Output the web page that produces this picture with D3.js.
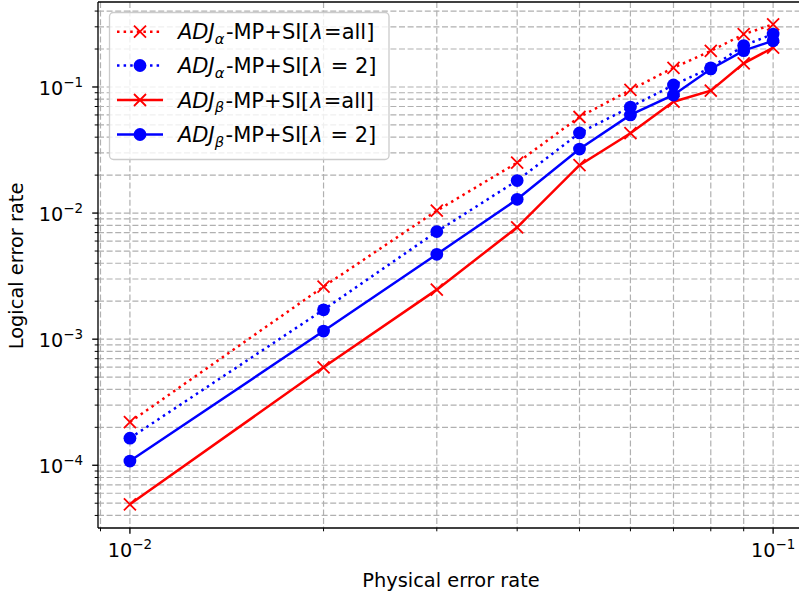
<!DOCTYPE html>
<html>
<head>
<meta charset="utf-8">
<script src="https://cdn.jsdelivr.net/npm/d3@7"></script>
<style>
  html, body { margin: 0; padding: 0; background: #fff; }
  svg { display: block; font-family: "DejaVu Sans", sans-serif; }
</style>
</head>
<body>
<svg id="chart" width="799" height="599"></svg>
<script>
// Physical error rates sampled
const physicalRates = [0.01, 0.02, 0.03, 0.04, 0.05, 0.06, 0.07, 0.08, 0.09, 0.1];

// Logical error rates per decoder configuration
const adjAlphaAll = [2.2e-4, 2.61e-3, 1.045e-2, 0.0251, 0.0578, 0.0947, 0.142, 0.193, 0.262, 0.314];
const adjAlpha2   = [1.64e-4, 1.71e-3, 7.13e-3, 0.0181, 0.0432, 0.0693, 0.1037, 0.142, 0.213, 0.263];
const adjBetaAll  = [4.9e-5, 5.98e-4, 2.47e-3, 7.71e-3, 0.0240, 0.0430, 0.0764, 0.0935, 0.154, 0.205];
const adjBeta2    = [1.08e-4, 1.16e-3, 4.71e-3, 0.01285, 0.0322, 0.0600, 0.0864, 0.139, 0.194, 0.233];

// Legend pieces: subscript letter and the bracketed lambda setting
const seriesSub = ["α", "α", "β", "β"];
const seriesLam = ["=all]", " = 2]", "=all]", " = 2]"];

// Axis extents and tick labels
const xDomain = [0.00892, 0.1101];
const yDomain = [3.18e-5, 0.472];
const xTickValues = [0.01, 0.1];
const xTickExps = ["−2", "−1"];
const yTickValues = [1e-4, 1e-3, 1e-2, 1e-1];
const yTickExps = ["−4", "−3", "−2", "−1"];

const xLabel = "Physical error rate";
const yLabel = "Logical error rate";

const series = [
  { values: adjAlphaAll, color: "#ff0000", dotted: true,  marker: "x" },
  { values: adjAlpha2,   color: "#0000ff", dotted: true,  marker: "o" },
  { values: adjBetaAll,  color: "#ff0000", dotted: false, marker: "x" },
  { values: adjBeta2,    color: "#0000ff", dotted: false, marker: "o" }
];

const svg = d3.select("#chart");
const plot = { left: 98, top: 2, right: 800, bottom: 528 };

const x = d3.scaleLog().domain(xDomain).range([plot.left, plot.right]);
const y = d3.scaleLog().domain(yDomain).range([plot.bottom, plot.top]);

const gridColor = "#b0b0b0";
const gridDash = "6,2.6";

// all ticks (major + minor) within the visible range
function logTicks(domain) {
  const out = [];
  const lo = Math.floor(Math.log10(domain[0]));
  const hi = Math.ceil(Math.log10(domain[1]));
  for (let e = lo; e <= hi; e++) {
    for (let m = 1; m <= 9; m++) {
      const v = m * Math.pow(10, e);
      if (v >= domain[0] && v <= domain[1]) out.push({ v, major: m === 1 });
    }
  }
  return out;
}
const xTicks = logTicks(xDomain);
const yTicks = logTicks(yDomain);

svg.append("defs").append("clipPath").attr("id", "plotclip")
  .append("rect").attr("x", plot.left).attr("y", plot.top)
  .attr("width", plot.right - plot.left).attr("height", plot.bottom - plot.top);

// grid
const grid = svg.append("g").attr("clip-path", "url(#plotclip)");
grid.selectAll("line.gx").data(xTicks).join("line")
  .attr("x1", d => x(d.v)).attr("x2", d => x(d.v))
  .attr("y1", plot.top).attr("y2", plot.bottom)
  .attr("stroke", gridColor).attr("stroke-width", 1.2).attr("stroke-dasharray", gridDash);
grid.selectAll("line.gy").data(yTicks).join("line")
  .attr("y1", d => y(d.v)).attr("y2", d => y(d.v))
  .attr("x1", plot.left).attr("x2", plot.right)
  .attr("stroke", gridColor).attr("stroke-width", 1.2).attr("stroke-dasharray", gridDash);

// data lines and markers
const dataG = svg.append("g").attr("clip-path", "url(#plotclip)");
const line = d3.line().x((d, i) => x(physicalRates[i])).y(d => y(d));

function drawMarker(g, kind, cx, cy, color) {
  if (kind === "o") {
    g.append("circle").attr("cx", cx).attr("cy", cy).attr("r", 6.4).attr("fill", color);
  } else {
    const h = 6;
    g.append("path")
      .attr("d", `M${cx - h},${cy - h}L${cx + h},${cy + h}M${cx - h},${cy + h}L${cx + h},${cy - h}`)
      .attr("stroke", color).attr("stroke-width", 1.8).attr("fill", "none");
  }
}

series.forEach(s => {
  dataG.append("path").datum(s.values)
    .attr("d", line)
    .attr("fill", "none")
    .attr("stroke", s.color)
    .attr("stroke-width", 2.5)
    .attr("stroke-dasharray", s.dotted ? "2.5,4.1" : null);
  s.values.forEach((v, i) => drawMarker(dataG, s.marker, x(physicalRates[i]), y(v), s.color));
});

// spines
const spine = (x1, y1, x2, y2) => svg.append("line")
  .attr("x1", x1).attr("y1", y1).attr("x2", x2).attr("y2", y2)
  .attr("stroke", "#000").attr("stroke-width", 1.33);
spine(plot.left, plot.top, plot.left, plot.bottom);
spine(plot.left, plot.bottom, plot.right, plot.bottom);
spine(plot.left, plot.top, plot.right, plot.top);
spine(plot.right, plot.top, plot.right, plot.bottom);

// tick marks
svg.selectAll("line.xt").data(xTicks).join("line")
  .attr("x1", d => x(d.v)).attr("x2", d => x(d.v))
  .attr("y1", plot.bottom).attr("y2", d => plot.bottom + (d.major ? 5.8 : 3.3))
  .attr("stroke", "#000").attr("stroke-width", d => d.major ? 1.33 : 1);
svg.selectAll("line.yt").data(yTicks).join("line")
  .attr("y1", d => y(d.v)).attr("y2", d => y(d.v))
  .attr("x1", plot.left).attr("x2", d => plot.left - (d.major ? 5.8 : 3.3))
  .attr("stroke", "#000").attr("stroke-width", d => d.major ? 1.33 : 1);

const tickFont = 19.2;
// x tick labels
xTickValues.forEach((v, i) => {
  const t = svg.append("text").attr("x", x(v)).attr("y", 557)
    .attr("text-anchor", "middle").attr("font-size", tickFont).attr("fill", "#000");
  t.append("tspan").text("10");
  t.append("tspan").attr("dy", -8).attr("font-size", tickFont * 0.7).text(xTickExps[i]);
});
// y tick labels
yTickValues.forEach((v, i) => {
  const t = svg.append("text").attr("x", 83).attr("y", y(v) + 8)
    .attr("text-anchor", "end").attr("font-size", tickFont).attr("fill", "#000");
  t.append("tspan").text("10");
  t.append("tspan").attr("dy", -8).attr("font-size", tickFont * 0.7).text(yTickExps[i]);
});

// axis labels
svg.append("text").attr("x", 451).attr("y", 587).attr("text-anchor", "middle")
  .attr("font-size", 19.4).text(xLabel);
svg.append("text").attr("transform", "translate(23,266) rotate(-90)").attr("text-anchor", "middle")
  .attr("font-size", 19.4).text(yLabel);

// legend
const leg = svg.append("g");
leg.append("rect").attr("x", 109.5).attr("y", 12.5).attr("width", 279.5).attr("height", 147)
  .attr("rx", 4).attr("fill", "#fff").attr("fill-opacity", 0.8)
  .attr("stroke", "#cccccc").attr("stroke-width", 1.33);
const legFont = 21;
const rowY = [31.7, 65.5, 100, 134.5];
series.forEach((s, i) => {
  const cy = rowY[i];
  leg.append("line").attr("x1", 117).attr("x2", 163).attr("y1", cy).attr("y2", cy)
    .attr("stroke", s.color).attr("stroke-width", 2.5)
    .attr("stroke-dasharray", s.dotted ? "2.5,4.1" : null);
  drawMarker(leg, s.marker, 140, cy, s.color);
  const t = leg.append("text").attr("x", 178).attr("y", cy + 7.5).attr("font-size", legFont).attr("fill", "#000");
  t.append("tspan").attr("font-style", "italic").text("ADJ");
  t.append("tspan").attr("font-style", "italic").attr("font-size", legFont * 0.7).attr("dy", 4.5).text(seriesSub[i]);
  t.append("tspan").attr("dy", -4.5).attr("dx", 1.5).text("-MP+SI[");
  t.append("tspan").attr("font-style", "italic").attr("dx", 1).text("λ");
  t.append("tspan").attr("dx", 1).text(seriesLam[i]);
});
</script>
</body>
</html>
